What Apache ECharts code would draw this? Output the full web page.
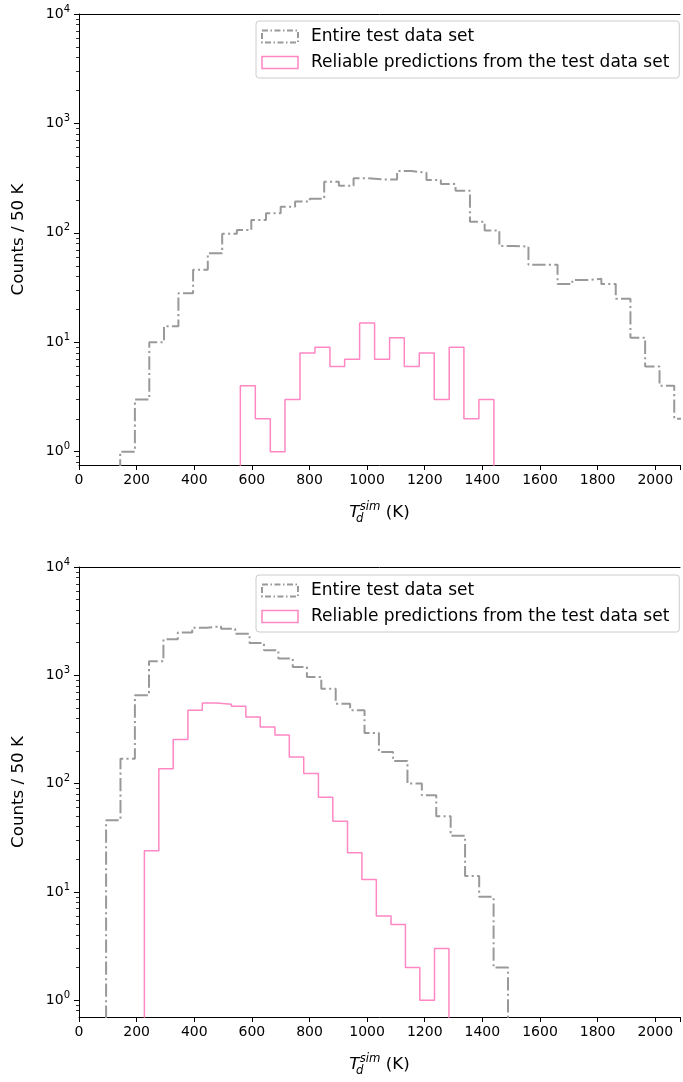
<!DOCTYPE html>
<html><head><meta charset="utf-8">
<script src="https://cdn.jsdelivr.net/npm/echarts@6/dist/echarts.min.js"></script>
<style>html,body{margin:0;padding:0;background:#fff}#c{width:683px;height:1082px}</style>
</head><body><div id="c"></div>
<script>
// ---- data ----
const xTickValues = [0, 200, 400, 600, 800, 1000, 1200, 1400, 1600, 1800, 2000];
const yMajorTicks = [1, 10, 100, 1000, 10000];
const yMinorTicks = [0.8, 0.9, 2, 3, 4, 5, 6, 7, 8, 9, 20, 30, 40, 50, 60, 70, 80, 90,
  200, 300, 400, 500, 600, 700, 800, 900, 2000, 3000, 4000, 5000, 6000, 7000, 8000, 9000];
const seriesNames = ['Entire test data set', 'Reliable predictions from the test data set'];

// top panel: entire test data set (bin edges in K, counts per bin)
const topEntireEdges = [143,194,244,295,345,396,447,497,548,598,649,700,750,801,851,902,953,1003,1054,1104,
  1155,1206,1256,1307,1357,1408,1459,1509,1560,1610,1661,1712,1762,1813,1863,1914,1965,2015,2066,2116];
const topEntireCounts = [1,3,10,14,28,46,65,98,106,131,151,173,193,205,293,270,315,308,308,367,
  354,304,279,243,126,105,76,75,51,51,34,37,38,34,25,11,6,4,2];
// top panel: reliable predictions
const topReliableEdges = [560,612,664,715,767,819,871,922,974,1026,1078,1129,1181,1233,1285,1336,1388,1440];
const topReliableCounts = [4,2,1,3,8,9,6,7,15,7,11,6,8,3,9,2,3];

// bottom panel: entire test data set
const botEntireEdges = [94,144,194,243,293,343,393,443,493,542,592,642,692,742,791,841,891,941,991,1041,
  1090,1140,1190,1240,1290,1340,1389,1439,1489];
const botEntireCounts = [46,170,654,1350,2150,2480,2755,2833,2697,2424,1987,1702,1426,1194,965,753,547,476,294,196,
  162,100,78,50,33,14,9,2];
// bottom panel: reliable predictions
const botReliableEdges = [227,277,327,378,428,478,529,579,629,680,730,780,831,881,932,982,1032,1083,1133,1183,1234,1284];
const botReliableCounts = [24,137,255,475,555,540,517,412,334,281,176,124,75,45,23,13,6,5,2,1,3];

// ---- build ----
const FLOOR = 0.01; // below visible axis range (like matplotlib's step going to 0 on a log axis)
function stepPoints(edges, counts) {
  const pts = [[edges[0], FLOOR]];
  counts.forEach((c, i) => { pts.push([edges[i], c]); pts.push([edges[i + 1], c]); });
  pts.push([edges[edges.length - 1], FLOOR]);
  return pts;
}

const FONT = 'DejaVu Sans';
const GRAY = '#999999';
const PINK = '#ff87c3';
const DASHDOT = [13.3, 3.3, 2.1, 3.3];
const X_MAX = 2086;

const grids = [
  { left: 79, right: 0, top: 14, height: 451, show: false },
  { left: 79, right: 0, top: 567, height: 450, show: false }
];
const yMins = [0.756, 0.70];

function xAxesFor(i) {
  return [{
    type: 'value', gridIndex: i, min: 0, max: X_MAX, interval: 200, position: 'bottom',
    axisLine: { show: true, onZero: false, lineStyle: { color: '#000', width: 1 } },
    axisTick: { show: true, length: 5, lineStyle: { color: '#000', width: 1 } },
    axisLabel: { fontFamily: FONT, fontSize: 14, color: '#000', margin: 8,
      showMaxLabel: true, formatter: v => (xTickValues.indexOf(v) >= 0 ? String(v) : '') },
    splitLine: { show: false },
    name: '{it|T}{sub|d}{sup|sim}{n| (K)}', nameLocation: 'middle', nameGap: 36,
    nameTextStyle: {
      fontFamily: FONT, fontSize: 16.7, color: '#000',
      rich: {
        it: { fontFamily: FONT, fontSize: 16.7, fontStyle: 'italic', color: '#000', lineHeight: 24 },
        sub: { fontFamily: FONT, fontSize: 11.7, fontStyle: 'italic', color: '#000', verticalAlign: 'bottom', lineHeight: 12, width: 0.1 },
        sup: { fontFamily: FONT, fontSize: 11.7, fontStyle: 'italic', color: '#000', verticalAlign: 'top', lineHeight: 12 },
        n: { fontFamily: FONT, fontSize: 16.7, color: '#000', lineHeight: 24 }
      }
    }
  }, {
    type: 'value', gridIndex: i, min: 0, max: X_MAX, position: 'top',
    axisLine: { show: true, onZero: false, lineStyle: { color: '#000', width: 1 } },
    axisTick: { show: false }, axisLabel: { show: false }, splitLine: { show: false }
  }];
}
function yAxesFor(i) {
  const base = { type: 'log', logBase: 10, gridIndex: i, min: yMins[i], max: 10000, position: 'left', splitLine: { show: false } };
  return [
    Object.assign({}, base, {
      axisLine: { show: true, lineStyle: { color: '#000', width: 1 } },
      axisTick: { show: true, length: 5, customValues: yMajorTicks, lineStyle: { color: '#000', width: 1 } },
      axisLabel: {
        customValues: yMajorTicks, margin: 9,
        formatter: v => '{b|10}{s|' + Math.round(Math.log10(v)) + '}',
        rich: {
          b: { fontFamily: FONT, fontSize: 14, color: '#000', lineHeight: 20 },
          s: { fontFamily: FONT, fontSize: 10, color: '#000', verticalAlign: 'top', lineHeight: 10 }
        }
      },
      name: 'Counts / 50 K', nameLocation: 'middle', nameGap: 52, nameRotate: 90,
      nameTextStyle: { fontFamily: FONT, fontSize: 16.7, color: '#000' }
    }),
    Object.assign({}, base, {
      axisLine: { show: false },
      axisTick: { show: true, length: 3, customValues: yMinorTicks, lineStyle: { color: '#000', width: 0.8 } },
      axisLabel: { show: false }
    })
  ];
}

const series = [];
function addPanel(i, eEdges, eCounts, rEdges, rCounts) {
  series.push({
    type: 'line', name: seriesNames[0], xAxisIndex: i * 2, yAxisIndex: i * 2,
    data: stepPoints(eEdges, eCounts), showSymbol: false, symbol: 'none', clip: true,
    color: GRAY, lineStyle: { color: GRAY, width: 2, type: DASHDOT }, z: 2
  });
  series.push({
    type: 'line', name: seriesNames[1], xAxisIndex: i * 2, yAxisIndex: i * 2,
    data: stepPoints(rEdges, rCounts), showSymbol: false, symbol: 'none', clip: true,
    color: PINK, lineStyle: { color: PINK, width: 1.5 }, z: 3
  });
}
addPanel(0, topEntireEdges, topEntireCounts, topReliableEdges, topReliableCounts);
addPanel(1, botEntireEdges, botEntireCounts, botReliableEdges, botReliableCounts);

function legendAt(top) {
  return {
    left: 256, top: top, orient: 'vertical', selectedMode: false,
    padding: [6, 10, 6, 5], itemGap: 7, itemWidth: 36, itemHeight: 12,
    backgroundColor: 'rgba(255,255,255,0.8)', borderColor: '#cccccc', borderWidth: 1, borderRadius: 3,
    textStyle: { fontFamily: FONT, fontSize: 17, color: '#000', lineHeight: 19, padding: [0, 0, 0, 8] },
    data: [
      { name: seriesNames[0], icon: 'rect',
        itemStyle: { color: 'rgba(0,0,0,0)', borderColor: GRAY, borderWidth: 2, borderType: [6, 2.5, 1.5, 2.5] } },
      { name: seriesNames[1], icon: 'rect',
        itemStyle: { color: 'rgba(0,0,0,0)', borderColor: PINK, borderWidth: 1.5 } }
    ],
    z: 10
  };
}

const chart = echarts.init(document.getElementById('c'), null, { renderer: 'canvas' });
chart.setOption({
  animation: false,
  backgroundColor: '#fff',
  grid: grids,
  xAxis: [...xAxesFor(0), ...xAxesFor(1)],
  yAxis: [...yAxesFor(0), ...yAxesFor(1)],
  legend: [legendAt(21), legendAt(575)],
  series: series
});
</script></body></html>
